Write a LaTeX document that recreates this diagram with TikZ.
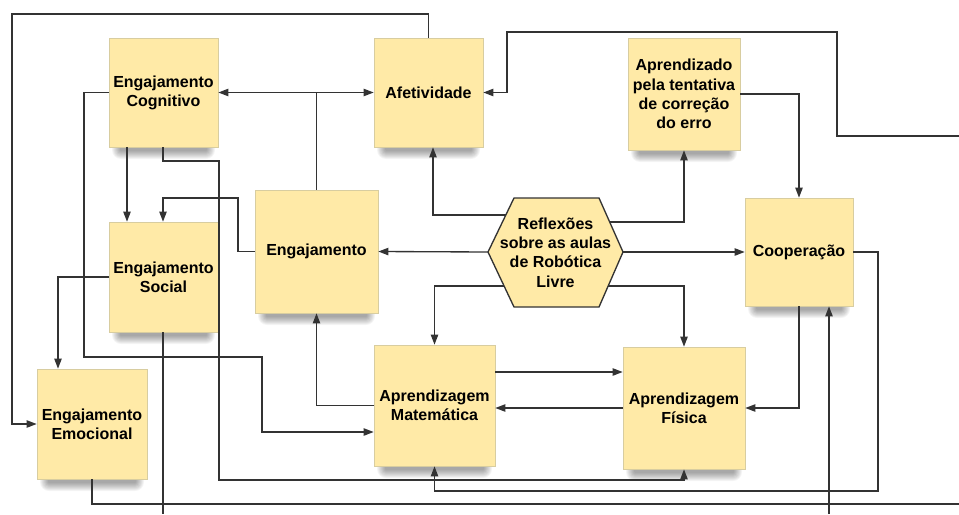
\documentclass[tikz,border=0pt]{standalone}
\usepackage{fontspec}
\setmainfont{Liberation Sans}
\usetikzlibrary{arrows.meta}
\definecolor{boxfill}{HTML}{FFEAA7}
\definecolor{boxline}{HTML}{D8CDA0}
\definecolor{linec}{HTML}{333333}
\newcommand\mkbox[6]{%
  \foreach \k in {0,...,8} {\fill[black, opacity=0.045, rounded corners={(\k+1)*0.75pt}] ({#2+11-\k},{#3+10-\k}) rectangle ({#4-11+\k},{#5+4+\k});}
  \node[box, minimum width={(#4-#2)*0.75pt}, minimum height={(#5-#3)*0.75pt}] (#1) at ({(#2+#4)/2},{(#3+#5)/2}) {#6};}
\begin{document}
\begin{tikzpicture}[x=0.75pt,y=-0.75pt,
  box/.style={fill=boxfill, draw=boxline, line width=0.5pt, inner sep=0pt, align=center,
    font=\bfseries\fontsize{12}{14.4}\selectfont},
  conn/.style={draw=linec, line width=1pt},
  arr/.style={conn, -{Triangle[length=7.5pt,width=5.5pt]}}]
\useasboundingbox (0,0) rectangle (959,514);
\fill[white] (0,0) rectangle (959,514);
% boxes
\mkbox{ec}{109}{38}{218}{147}{Engajamento\\Cognitivo}
\mkbox{af}{374}{38}{483}{147}{Afetividade}
\mkbox{ap}{628}{38}{740}{150}{Aprendizado\\pela tentativa\\de correção\\do erro}
\mkbox{es}{109}{222}{218}{332}{Engajamento\\Social}
\mkbox{en}{255}{190}{378}{313}{Engajamento}
\mkbox{co}{745}{198}{853}{306}{Cooperação}
\mkbox{am}{374}{345}{495}{466}{Aprendizagem\\Matemática}
\mkbox{fis}{623}{347}{745}{469}{Aprendizagem\\Física}
\mkbox{em}{37}{369}{147}{479}{Engajamento\\Emocional}
% hexagon
\coordinate (hL) at (488,252);
\coordinate (hTL) at (514,198);
\coordinate (hTR) at (599,198);
\coordinate (hR) at (623,252);
\coordinate (hBR) at (599,307);
\coordinate (hBL) at (514,307);
\draw[fill=boxfill, draw=linec, line width=1pt] (hL) -- (hTL) -- (hTR) -- (hR) -- (hBR) -- (hBL) -- cycle;
\node[align=center, inner sep=0pt, font=\bfseries\fontsize{12}{14.4}\selectfont] (refl) at (555.5,252.5) {Reflexões\\sobre as aulas\\de Robótica\\Livre};
\coordinate (hUL) at (505.8,215);
\coordinate (hUR) at (609.7,222);
\coordinate (hLL) at (504.1,286);
\coordinate (hLR) at (608.2,286);
% free ends
\coordinate (rin) at (959,136);
\coordinate (bin) at (829,514);
\coordinate (sout) at (163,514);
\coordinate (eout) at (959,504);
% connectors
\draw[arr] (af.north) |- (12,14) |- (em.west);
\draw[arr] (ec.west) -- (84,92.5) |- (262,357) |- (am.west |- 0,432);
\draw[arr] (127,0 |- ec.south) -- (127,0 |- es.north);
\draw[arr] (163,0 |- ec.south) -- (163,161) -| (219,480) -| (fis.south);
\draw[arr] (en.north) |- (ec.east);
\draw[arr] (en.north) |- (af.west);
\draw[arr] (en.west) -| (238,198) -| (163,0 |- es.north);
\draw[arr] (hL) -- (en.east);
\draw[arr] (hUL) -| (433,0 |- af.south);
\draw[arr] (hUR) -| (ap.south);
\draw[arr] (hR) -- (co.west);
\draw[arr] (hLR) -| (fis.north);
\draw[arr] (hLL) -| (am.north);
\draw[arr] (ap.east) -| (co.north);
\draw[arr] (rin) -- (837,136) |- (507,32) |- (af.east);
\draw[arr] (co.south) |- (fis.east);
\draw[arr] (bin) -- (829,0 |- co.south);
\draw[arr] (am.east |- 0,372) -- (fis.west |- 0,372);
\draw[arr] (fis.west) -- (am.east |- fis.west);
\draw[arr] (am.west) -| (en.south);
\draw[arr] (es.west) -| (58,0 |- em.north);
\draw[conn] (163,0 |- es.south) -- (sout);
\draw[conn] (em.south) |- (eout);
\draw[arr] (co.east) -| (878,491) -| (am.south);
\end{tikzpicture}
\end{document}
